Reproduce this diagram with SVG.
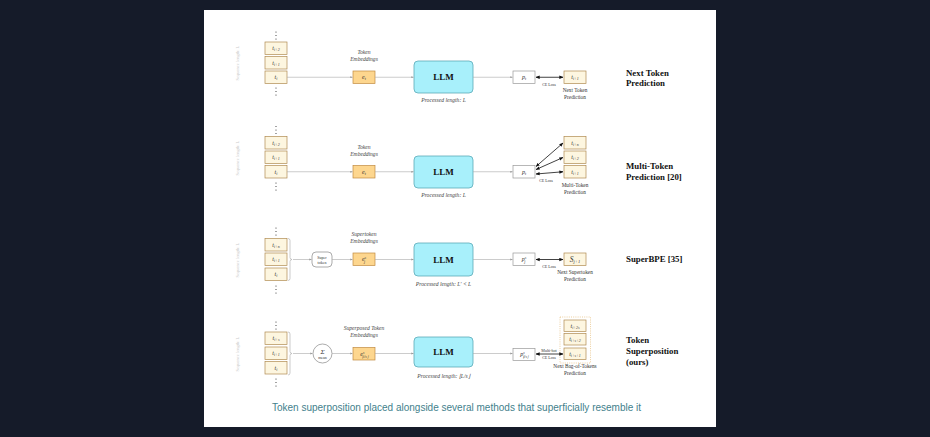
<svg xmlns="http://www.w3.org/2000/svg" width="930" height="437" viewBox="0 0 930 437">
<defs>
<marker id="ah" viewBox="0 0 6 6" refX="5.5" refY="3" markerWidth="4" markerHeight="4" orient="auto-start-reverse"><path d="M0,0.8 L6,3 L0,5.2 z" fill="#999"/></marker>
<marker id="bh" viewBox="0 0 6 6" refX="5.5" refY="3" markerWidth="5" markerHeight="5" orient="auto-start-reverse"><path d="M0,0.5 L6,3 L0,5.5 z" fill="#111"/></marker>
</defs>
<style>
.tok{fill:#fdf6e0;stroke:#b08a50;stroke-width:0.7}
.emb{fill:#fdd68e;stroke:#c08a40;stroke-width:0.7}
.llm{fill:#a8f0fb;stroke:#5aaab8;stroke-width:0.8}
.pb{fill:#fff;stroke:#999;stroke-width:0.7}
.gl{stroke:#aaa;stroke-width:0.6;fill:none}
.bl{stroke:#111;stroke-width:0.8;fill:none}
.t{font-family:"Liberation Serif",serif;font-style:italic;fill:#333;text-anchor:middle}
.lab{font-family:"Liberation Serif",serif;font-style:italic;font-size:5.6px;fill:#444;text-anchor:middle}
.sm{font-family:"Liberation Serif",serif;font-size:5.3px;fill:#333;text-anchor:middle}
.tiny{font-family:"Liberation Serif",serif;font-size:4px;fill:#333;text-anchor:middle}
.ttl{font-family:"Liberation Serif",serif;font-weight:bold;font-size:8.8px;fill:#111}
.llmt{font-family:"Liberation Serif",serif;font-weight:bold;font-size:9px;fill:#111;text-anchor:middle}
.seq{font-family:"Liberation Serif",serif;font-size:4.5px;fill:#ccc;text-anchor:middle}
.dot{fill:#333}
</style>
<rect width="930" height="437" fill="#151b29"/>
<rect x="204" y="10" width="512" height="417" fill="#fff"/>

<!-- Row 1 -->
<g id="row1-seq">
<text class="seq" transform="translate(239,63) rotate(-90)">Sequence length: L</text>
<circle class="dot" cx="276" cy="32" r="0.6"/><circle class="dot" cx="276" cy="35.5" r="0.6"/><circle class="dot" cx="276" cy="39" r="0.6"/>
<rect class="tok" x="265" y="42" width="22" height="12.5"/><text class="t" x="276" y="50" font-size="6">t<tspan font-size="4" dy="1">i+2</tspan></text>
<rect class="tok" x="265" y="56.5" width="22" height="12.5"/><text class="t" x="276" y="64.5" font-size="6">t<tspan font-size="4" dy="1">i+1</tspan></text>
<rect class="tok" x="265" y="71" width="22" height="12.5"/><text class="t" x="276" y="79" font-size="6">t<tspan font-size="4" dy="1">i</tspan></text>
<circle class="dot" cx="276" cy="88" r="0.6"/><circle class="dot" cx="276" cy="91.5" r="0.6"/><circle class="dot" cx="276" cy="95" r="0.6"/>
</g>
<g id="row1-emb">
<text class="lab" x="364" y="54">Token</text><text class="lab" x="364" y="61">Embeddings</text>
<rect class="emb" x="353" y="71" width="22" height="12.5"/><text class="t" x="364" y="79" font-size="6">e<tspan font-size="4" dy="1">t</tspan></text>
</g>
<g id="row1-llm">
<rect class="llm" x="414" y="61" width="59" height="32" rx="4"/><text class="llmt" x="443.5" y="80">LLM</text>
<text class="lab" x="443.5" y="102">Processed length: <tspan>L</tspan></text>
</g>
<g id="row1-out">
<rect class="pb" x="513" y="71" width="22" height="12.5"/><text class="t" x="524" y="79" font-size="6">p<tspan font-size="4" dy="1">t</tspan></text>
<rect class="tok" x="564" y="71" width="22" height="12.5"/><text class="t" x="575" y="79" font-size="6">t<tspan font-size="4" dy="1">i+1</tspan></text>
<text class="tiny" x="549" y="86">CE Loss</text>
<text class="sm" x="575" y="92">Next Token</text><text class="sm" x="575" y="99">Prediction</text>
</g>
<g id="row1-title"><text class="ttl" x="626" y="76">Next Token</text><text class="ttl" x="626" y="86">Prediction</text></g>

<!-- Row 2 -->
<g id="row2-seq">
<text class="seq" transform="translate(239,158) rotate(-90)">Sequence length: L</text>
<circle class="dot" cx="276" cy="126.5" r="0.6"/><circle class="dot" cx="276" cy="130" r="0.6"/><circle class="dot" cx="276" cy="133.5" r="0.6"/>
<rect class="tok" x="265" y="136.5" width="22" height="12.5"/><text class="t" x="276" y="144.5" font-size="6">t<tspan font-size="4" dy="1">i+2</tspan></text>
<rect class="tok" x="265" y="151" width="22" height="12.5"/><text class="t" x="276" y="159" font-size="6">t<tspan font-size="4" dy="1">i+1</tspan></text>
<rect class="tok" x="265" y="165.5" width="22" height="12.5"/><text class="t" x="276" y="173.5" font-size="6">t<tspan font-size="4" dy="1">i</tspan></text>
<circle class="dot" cx="276" cy="183" r="0.6"/><circle class="dot" cx="276" cy="186.5" r="0.6"/><circle class="dot" cx="276" cy="190" r="0.6"/>
</g>
<g id="row2-emb">
<text class="lab" x="364" y="149">Token</text><text class="lab" x="364" y="156">Embeddings</text>
<rect class="emb" x="353" y="165.5" width="22" height="12.5"/><text class="t" x="364" y="173.5" font-size="6">e<tspan font-size="4" dy="1">t</tspan></text>
</g>
<g id="row2-llm">
<rect class="llm" x="414" y="156" width="59" height="32" rx="4"/><text class="llmt" x="443.5" y="175">LLM</text>
<text class="lab" x="443.5" y="197">Processed length: <tspan>L</tspan></text>
</g>
<g id="row2-out">
<rect class="pb" x="513" y="165.5" width="22" height="12.5"/><text class="t" x="524" y="173.5" font-size="6">p<tspan font-size="4" dy="1">t</tspan></text>
<rect class="tok" x="564" y="136.5" width="22" height="12.5"/><text class="t" x="575" y="144.5" font-size="6">t<tspan font-size="4" dy="1">i+n</tspan></text>
<rect class="tok" x="564" y="151" width="22" height="12.5"/><text class="t" x="575" y="159" font-size="6">t<tspan font-size="4" dy="1">i+2</tspan></text>
<rect class="tok" x="564" y="165.5" width="22" height="12.5"/><text class="t" x="575" y="173.5" font-size="6">t<tspan font-size="4" dy="1">i+1</tspan></text>
<text class="tiny" x="546" y="182">CE Loss</text>
<text class="sm" x="575" y="187">Multi-Token</text><text class="sm" x="575" y="194">Prediction</text>
</g>
<g id="row2-title"><text class="ttl" x="626" y="169">Multi-Token</text><text class="ttl" x="626" y="180">Prediction [20]</text></g>

<!-- Row 3 -->
<g id="row3-seq">
<text class="seq" transform="translate(239,260) rotate(-90)">Sequence length: L</text>
<circle class="dot" cx="276" cy="228" r="0.6"/><circle class="dot" cx="276" cy="231.5" r="0.6"/><circle class="dot" cx="276" cy="235" r="0.6"/>
<rect class="tok" x="265" y="238.5" width="22" height="12.5"/><text class="t" x="276" y="246.5" font-size="6">t<tspan font-size="4" dy="1">i+n</tspan></text>
<rect class="tok" x="265" y="253" width="22" height="12.5"/><text class="t" x="276" y="261" font-size="6">t<tspan font-size="4" dy="1">i+1</tspan></text>
<rect class="tok" x="265" y="268" width="22" height="12.5"/><text class="t" x="276" y="276" font-size="6">t<tspan font-size="4" dy="1">i</tspan></text>
<circle class="dot" cx="276" cy="286" r="0.6"/><circle class="dot" cx="276" cy="289.5" r="0.6"/><circle class="dot" cx="276" cy="293" r="0.6"/>
<path class="gl" d="M288,238.5 q2,0 2,2 v17 q0,2 2,2 q-2,0 -2,2 v17 q0,2 -2,2" stroke="#888"/>
</g>
<g id="row3-super">
<rect x="312" y="252" width="20" height="15" rx="4" fill="#fff" stroke="#888" stroke-width="0.7"/>
<text class="tiny" x="322" y="258.5" font-size="4.3">Super</text><text class="tiny" x="322" y="264" font-size="4.3">token</text>
</g>
<g id="row3-emb">
<text class="lab" x="364" y="236">Supertoken</text><text class="lab" x="364" y="243">Embeddings</text>
<rect class="emb" x="353" y="253" width="22" height="12.5"/><text class="t" x="364" y="261" font-size="6">e<tspan font-size="4" dy="-2.5">s</tspan><tspan font-size="4" dx="-2" dy="4">j</tspan></text>
</g>
<g id="row3-llm">
<rect class="llm" x="414" y="243" width="59" height="33" rx="4"/><text class="llmt" x="443.5" y="262.5">LLM</text>
<text class="lab" x="443.5" y="286">Processed length: L′ &lt; L</text>
</g>
<g id="row3-out">
<rect class="pb" x="513" y="253" width="22" height="12.5"/><text class="t" x="524" y="261" font-size="6">p<tspan font-size="4" dy="-2.5">s</tspan><tspan font-size="4" dx="-2" dy="4">j</tspan></text>
<rect class="tok" x="564" y="253" width="22" height="12.5"/><text class="t" x="575" y="262" font-size="7.5">S<tspan font-size="4.5" dy="1">j+1</tspan></text>
<text class="tiny" x="549" y="268">CE Loss</text>
<text class="sm" x="575" y="274">Next Supertoken</text><text class="sm" x="575" y="281">Prediction</text>
</g>
<g id="row3-title"><text class="ttl" x="626" y="262">SuperBPE [35]</text></g>

<!-- Row 4 -->
<g id="row4-seq">
<text class="seq" transform="translate(239,354) rotate(-90)">Sequence length: L</text>
<circle class="dot" cx="276" cy="322" r="0.6"/><circle class="dot" cx="276" cy="325.5" r="0.6"/><circle class="dot" cx="276" cy="329" r="0.6"/>
<rect class="tok" x="265" y="332" width="22" height="12.5"/><text class="t" x="276" y="340" font-size="6">t<tspan font-size="4" dy="1">i+s</tspan></text>
<rect class="tok" x="265" y="347" width="22" height="12.5"/><text class="t" x="276" y="355" font-size="6">t<tspan font-size="4" dy="1">i+1</tspan></text>
<rect class="tok" x="265" y="361.5" width="22" height="12.5"/><text class="t" x="276" y="369.5" font-size="6">t<tspan font-size="4" dy="1">i</tspan></text>
<circle class="dot" cx="276" cy="379" r="0.6"/><circle class="dot" cx="276" cy="382.5" r="0.6"/><circle class="dot" cx="276" cy="386" r="0.6"/>
<path class="gl" d="M288,332 q2,0 2,2 v17.5 q0,2 2,2 q-2,0 -2,2 v17.5 q0,2 -2,2" stroke="#888"/>
</g>
<g id="row4-sum">
<circle cx="322.5" cy="353.5" r="9.5" fill="#fff" stroke="#888" stroke-width="0.7"/>
<text class="t" x="322.5" y="353.5" font-size="7" font-style="normal">Σ</text>
<text class="tiny" x="322.5" y="359" font-size="3.5">mean</text>
</g>
<g id="row4-emb">
<text class="lab" x="364" y="330">Superposed Token</text><text class="lab" x="364" y="337">Embeddings</text>
<rect class="emb" x="353" y="347.5" width="22" height="12.5"/><text class="t" x="364" y="356" font-size="6">e<tspan font-size="3.5" dy="-2.5">s</tspan><tspan font-size="3.5" dx="-2" dy="4">⌊i/s⌋</tspan></text>
</g>
<g id="row4-llm">
<rect class="llm" x="414" y="337" width="59" height="30" rx="4"/><text class="llmt" x="443.5" y="355">LLM</text>
<text class="lab" x="443.5" y="378">Processed length: ⌊L/s⌋</text>
</g>
<g id="row4-out">
<rect class="pb" x="513" y="348.5" width="22" height="12"/><text class="t" x="524" y="356" font-size="6">p<tspan font-size="3.5" dy="-2.5">s</tspan><tspan font-size="3.5" dx="-2" dy="4">⌊i/s⌋</tspan></text>
<rect x="560" y="317" width="30.5" height="46" fill="none" stroke="#e0b060" stroke-width="0.6" stroke-dasharray="1,1.2"/>
<rect class="tok" x="564" y="320" width="22" height="11.5"/><text class="t" x="575" y="327.5" font-size="6">t<tspan font-size="4" dy="1">i+2s</tspan></text>
<rect class="tok" x="564" y="333.5" width="22" height="11.5"/><text class="t" x="575" y="341" font-size="6">t<tspan font-size="4" dy="1">i+s+2</tspan></text>
<rect class="tok" x="564" y="348" width="22" height="11.5"/><text class="t" x="575" y="355.5" font-size="6">t<tspan font-size="4" dy="1">i+s+1</tspan></text>
<text class="tiny" x="549" y="352" font-size="3.5">Multi-hot</text><text class="tiny" x="549" y="358.5" font-size="3.5">CE Loss</text>
<text class="sm" x="575" y="368">Next Bag-of-Tokens</text><text class="sm" x="575" y="375">Prediction</text>
</g>
<g id="row4-title"><text class="ttl" x="626" y="343">Token</text><text class="ttl" x="626" y="354">Superposition</text><text class="ttl" x="626" y="365">(ours)</text></g>

<!-- Connectors -->
<g id="connectors">
<line class="gl" x1="287" y1="77.25" x2="352.5" y2="77.25" marker-end="url(#ah)"/>
<line class="gl" x1="375" y1="77.25" x2="413.5" y2="77.25" marker-end="url(#ah)"/>
<line class="gl" x1="473" y1="77.25" x2="512.5" y2="77.25" marker-end="url(#ah)"/>
<line class="bl" x1="536" y1="77.25" x2="563" y2="77.25" marker-start="url(#bh)" marker-end="url(#bh)"/>

<line class="gl" x1="287" y1="171.75" x2="352.5" y2="171.75" marker-end="url(#ah)"/>
<line class="gl" x1="375" y1="171.75" x2="413.5" y2="171.75" marker-end="url(#ah)"/>
<line class="gl" x1="473" y1="171.75" x2="512.5" y2="171.75" marker-end="url(#ah)"/>
<line class="bl" x1="536" y1="166.5" x2="563" y2="143" marker-start="url(#bh)" marker-end="url(#bh)"/>
<line class="bl" x1="536" y1="169.5" x2="563" y2="157.5" marker-start="url(#bh)" marker-end="url(#bh)"/>
<line class="bl" x1="536" y1="174" x2="563" y2="171.75" marker-start="url(#bh)" marker-end="url(#bh)"/>

<line class="gl" x1="293" y1="259.5" x2="311.5" y2="259.5" marker-end="url(#ah)"/>
<line class="gl" x1="332" y1="259.5" x2="352.5" y2="259.5" marker-end="url(#ah)"/>
<line class="gl" x1="375" y1="259.5" x2="413.5" y2="259.5" marker-end="url(#ah)"/>
<line class="gl" x1="473" y1="259.5" x2="512.5" y2="259.5" marker-end="url(#ah)"/>
<line class="bl" x1="536" y1="259.5" x2="563" y2="259.5" marker-start="url(#bh)" marker-end="url(#bh)"/>

<line class="gl" x1="293" y1="353.5" x2="312.5" y2="353.5" marker-end="url(#ah)"/>
<line class="gl" x1="332" y1="353.5" x2="352.5" y2="353.5" marker-end="url(#ah)"/>
<line class="gl" x1="375" y1="353.5" x2="413.5" y2="353.5" marker-end="url(#ah)"/>
<line class="gl" x1="473" y1="353.5" x2="512.5" y2="353.5" marker-end="url(#ah)"/>
<line class="bl" x1="536" y1="354" x2="563" y2="354" marker-start="url(#bh)" marker-end="url(#bh)"/>
</g>

<text x="456.5" y="411" font-family="'Liberation Sans',Arial,sans-serif" font-size="10px" fill="#437f8c" text-anchor="middle">Token superposition placed alongside several methods that superficially resemble it</text>
</svg>
